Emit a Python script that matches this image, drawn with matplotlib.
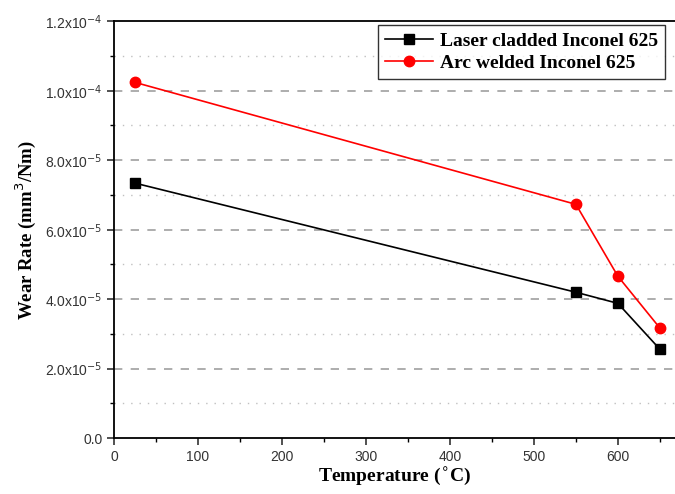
import numpy as np
import matplotlib.pyplot as plt
from matplotlib.ticker import MultipleLocator, FuncFormatter

temps = [25, 550, 600, 650]
laser_cladded = [7.34e-5, 4.20e-5, 3.88e-5, 2.56e-5]
arc_welded = [1.024e-4, 6.73e-5, 4.66e-5, 3.17e-5]

def sci_fmt(v, pos):
    if abs(v) < 1e-12:
        return "0.0"
    exp = int(np.floor(np.log10(abs(v))))
    mant = v / 10**exp
    return r"%.1fx10$^{%d}$" % (mant, exp)

fig = plt.figure(figsize=(6.75, 4.94), dpi=100)
ax = fig.add_axes([0.169, 0.113, 0.831, 0.844])

# grid: dashed on major, dotted on minor (y only)
for y in np.arange(2e-5, 1.2e-4, 2e-5):
    ax.axhline(y, color="#a0a0a0", lw=1.2, ls=(0, (5, 5)), zorder=0)
for y in np.arange(1e-5, 1.2e-4, 2e-5):
    ax.axhline(y, color="#c0c0c0", lw=1.0, ls=(0, (1, 5)), zorder=0)

ax.plot(temps, laser_cladded, color="black", marker="s", ms=6.5, lw=1.2,
        label="Laser cladded Inconel 625")
ax.plot(temps, arc_welded, color="red", marker="o", ms=7.5, lw=1.2,
        label="Arc welded Inconel 625")

ax.set_xlim(0, 668)
ax.set_ylim(0, 1.2e-4)
ax.xaxis.set_major_locator(MultipleLocator(100))
ax.xaxis.set_minor_locator(MultipleLocator(50))
ax.yaxis.set_major_locator(MultipleLocator(2e-5))
ax.yaxis.set_minor_locator(MultipleLocator(1e-5))
ax.yaxis.set_major_formatter(FuncFormatter(sci_fmt))

ax.tick_params(which="major", direction="out", length=5, width=1.2,
               labelsize=10, colors="#333333")
ax.tick_params(which="minor", direction="out", length=3, width=1.0)
for lbl in ax.get_xticklabels() + ax.get_yticklabels():
    lbl.set_family("Liberation Sans")
for sp in ax.spines.values():
    sp.set_linewidth(1.3)
ax.spines["right"].set_visible(False)

ax.set_xlabel("Temperature ($^{\\circ}$C)", family="Liberation Serif",
              fontweight="bold", fontsize=14, labelpad=1)
ax.set_ylabel("Wear Rate (mm$^{3}$/Nm)", family="Liberation Serif",
              fontweight="bold", fontsize=13.5, labelpad=5)

leg = ax.legend(loc="upper left", bbox_to_anchor=(0.47, 0.99), fancybox=False,
                edgecolor="black", borderaxespad=0,
                prop={"family": "Liberation Serif", "weight": "bold", "size": 14},
                handlelength=2.5, handletextpad=0.35, labelspacing=0.25,
                borderpad=0.35)
leg.get_frame().set_linewidth(1.0)

fig.savefig("out.png", dpi=100)
